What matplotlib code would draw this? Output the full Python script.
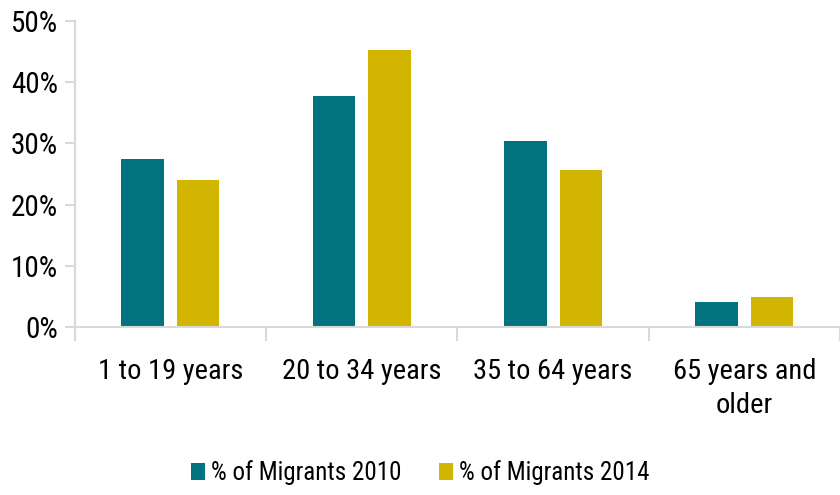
import numpy as np
import matplotlib
matplotlib.use('Agg')
import matplotlib.pyplot as plt
from matplotlib.ticker import FuncFormatter
from matplotlib import font_manager

categories = ['1 to 19 years', '20 to 34 years', '35 to 64 years', '65 years and\nolder']
migrants_2010 = [27.4, 37.7, 30.4, 4.1]
migrants_2014 = [24.0, 45.3, 25.7, 4.9]
yticks = [0, 10, 20, 30, 40, 50]

# pick a narrow face if one is installed
names = set(f.name for f in font_manager.fontManager.ttflist)
fam = ['DejaVu Sans']
for cand in ['Liberation Sans Narrow', 'Roboto Condensed', 'Open Sans Condensed']:
    if cand in names:
        fam = [cand, 'DejaVu Sans']
        break
plt.rcParams['font.family'] = fam
plt.rcParams['font.stretch'] = 'condensed'

fig = plt.figure(figsize=(8.4, 4.95), dpi=100)
ax = fig.add_axes([0.089, 0.339, 0.911, 0.619])

x = np.arange(len(categories))
width = 0.222
# two bars per category with a small gap
ax.bar(x - 0.145, migrants_2010, width, color='#02737e', label='% of Migrants 2010')
ax.bar(x + 0.145, migrants_2014, width, color='#d2b500', label='% of Migrants 2014')

ax.set_xlim(-0.5, len(categories) - 0.5)
ax.set_ylim(0, 50)
ax.set_yticks(yticks)
ax.yaxis.set_major_formatter(FuncFormatter(lambda v, p: '%d%%' % v))
ax.set_xticks(x)
ax.set_xticklabels(categories, fontsize=20.5, linespacing=1.35)
ax.set_xticks(np.arange(len(categories) + 1) - 0.5, minor=True)
ax.tick_params(axis='x', which='major', length=0, pad=22)
ax.tick_params(axis='x', which='minor', length=10, width=1.5, color='#d9d9d9')
ax.tick_params(axis='y', labelsize=21, length=7, width=1.5, color='#d9d9d9', pad=5)

for side in ['top', 'right']:
    ax.spines[side].set_visible(False)
for side in ['left', 'bottom']:
    ax.spines[side].set_color('#d9d9d9')
    ax.spines[side].set_linewidth(1.5)

fig.legend(loc='center', bbox_to_anchor=(0.5, 0.045), ncol=2, frameon=False,
           fontsize=18, handlelength=0.55, handleheight=0.7, handletextpad=0.25,
           columnspacing=1.5)

fig.savefig('out.png', dpi=100)
